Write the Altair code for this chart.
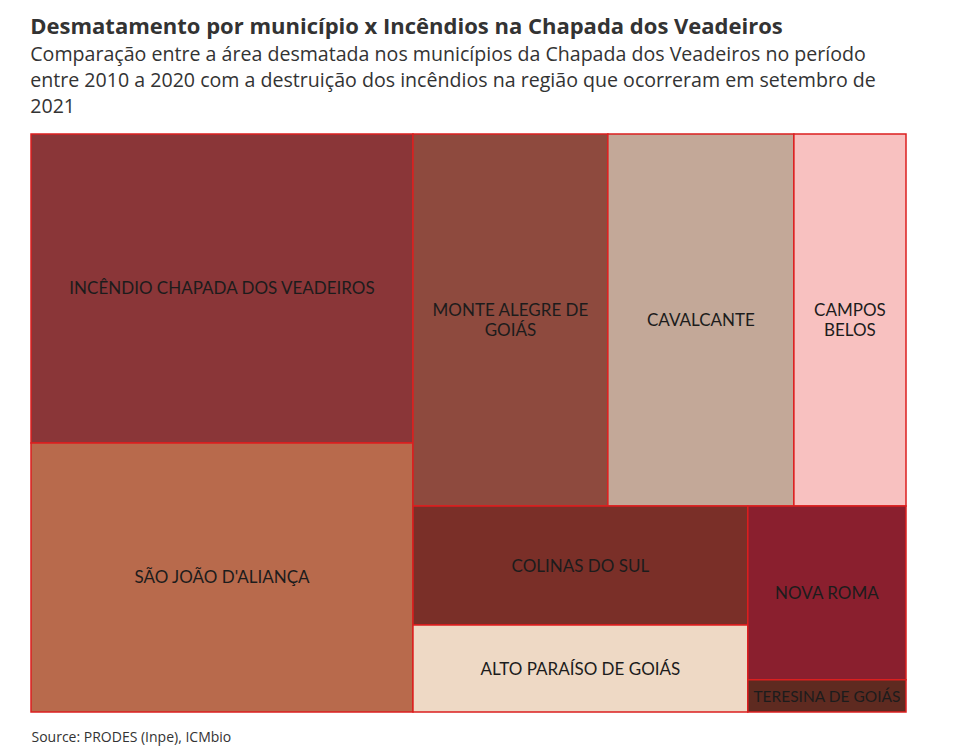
import altair as alt
import pandas as pd

# ---- data ----
names = ["INCÊNDIO CHAPADA DOS VEADEIROS", "SÃO JOÃO D'ALIANÇA", "MONTE ALEGRE DE GOIÁS",
         "CAVALCANTE", "CAMPOS BELOS", "COLINAS DO SUL", "ALTO PARAÍSO DE GOIÁS",
         "NOVA ROMA", "TERESINA DE GOIÁS"]
labels = ["INCÊNDIO CHAPADA DOS VEADEIROS", "SÃO JOÃO D'ALIANÇA", "MONTE ALEGRE DE\nGOIÁS",
          "CAVALCANTE", "CAMPOS\nBELOS", "COLINAS DO SUL", "ALTO PARAÍSO DE GOIÁS",
          "NOVA ROMA", "TERESINA DE GOIÁS"]
values = [118.0, 102.8, 72.5, 69.2, 41.7, 39.9, 29.1, 27.5, 5.1]
colors = ["#8a3638", "#b86a4c", "#8e4a3e", "#c3a898", "#f8c1c0",
          "#7a2f28", "#eed9c5", "#8a1f2e", "#5e2a20"]

title = "Desmatamento por município x Incêndios na Chapada dos Veadeiros"
subtitle = ["Comparação entre a área desmatada nos municípios da Chapada dos Veadeiros no período",
            "entre 2010 a 2020 com a destruição dos incêndios na região que ocorreram em setembro de",
            "2021"]
source = "Source: PRODES (Inpe), ICMbio"

W, H = 875, 578
FONT = "Lato"
TFONT = "Open Sans"


def squarify(vals, x0, y0, x1, y1, ratio=2.0):
    """d3-style squarified treemap layout."""
    order = sorted(range(len(vals)), key=lambda i: -vals[i])
    nodes = [vals[i] for i in order]
    rects = [None] * len(vals)
    n = len(nodes)
    i0 = i1 = 0
    value = float(sum(nodes))
    while i0 < n:
        dx, dy = x1 - x0, y1 - y0
        sumv = nodes[i1]
        i1 += 1
        minv = maxv = sumv
        alpha = max(dy / dx, dx / dy) / (value * ratio)
        beta = sumv * sumv * alpha
        minr = max(maxv / beta, beta / minv)
        while i1 < n:
            nv = nodes[i1]
            s = sumv + nv
            mn, mx = min(minv, nv), max(maxv, nv)
            beta = s * s * alpha
            nr = max(mx / beta, beta / mn)
            if nr > minr:
                break
            sumv, minv, maxv, minr = s, mn, mx, nr
            i1 += 1
        row = list(range(i0, i1))
        if dx < dy:
            yk = y0 + dy * sumv / value
            xx = x0
            for j in row:
                w = dx * nodes[j] / sumv
                rects[order[j]] = (xx, y0, xx + w, yk)
                xx += w
            y0 = yk
        else:
            xk = x0 + dx * sumv / value
            yy = y0
            for j in row:
                h = dy * nodes[j] / sumv
                rects[order[j]] = (x0, yy, xk, yy + h)
                yy += h
            x0 = xk
        value -= sumv
        i0 = i1
    return rects


rects = squarify(values, 0, 0, W, H)
df = pd.DataFrame({
    "name": names,
    "label": labels,
    "value": values,
    "x0": [r[0] for r in rects],
    "y0": [r[1] for r in rects],
    "x1": [r[2] for r in rects],
    "y1": [r[3] for r in rects],
})
df["xc"] = (df["x0"] + df["x1"]) / 2
df["yc"] = (df["y0"] + df["y1"]) / 2

xs = alt.Scale(domain=[0, W], nice=False, zero=False)
ys = alt.Scale(domain=[0, H], nice=False, zero=False, reverse=True)

base = alt.Chart(df)

cells = base.mark_rect(stroke="#dc1f1f", strokeWidth=1.5).encode(
    x=alt.X("x0:Q", scale=xs,
            axis=alt.Axis(labels=False, ticks=False, domain=False, grid=False,
                          title=source, titleAnchor="start", titleAlign="left",
                          titleFont=TFONT, titleFontSize=14, titleFontWeight="normal",
                          titleColor="#333333", titlePadding=18)),
    x2="x1:Q",
    y=alt.Y("y0:Q", scale=ys, axis=None),
    y2="y1:Q",
    color=alt.Color("name:N", scale=alt.Scale(domain=names, range=colors), legend=None),
    tooltip=["name:N", "value:Q"],
)

text_enc = dict(
    x=alt.X("xc:Q", scale=xs),
    y=alt.Y("yc:Q", scale=ys),
    text="label:N",
    size=alt.condition(alt.datum.value < 10, alt.value(15.5), alt.value(17)),
)

text_single = base.transform_filter("indexof(datum.label, '\\n') < 0").mark_text(
    font=FONT, color="#1c1c1c", align="center", baseline="middle", dy=1
).encode(**text_enc)

text_multi = base.transform_filter("indexof(datum.label, '\\n') >= 0").mark_text(
    font=FONT, color="#1c1c1c", lineBreak="\n", lineHeight=20,
    align="center", baseline="middle", dy=-9
).encode(**text_enc)

chart = (cells + text_single + text_multi).properties(
    width=W, height=H,
    autosize=alt.AutoSizeParams(type="none"),
    padding={"left": 23, "top": 126, "right": 30, "bottom": 35},
    title=alt.TitleParams(
        text=title, subtitle=subtitle, anchor="start", font=TFONT, fontSize=22,
        fontWeight="bold", color="#333333", subtitleFont=TFONT, subtitleFontSize=19.6,
        subtitleColor="#333333", subtitleLineHeight=26, subtitlePadding=7, offset=16,
    ),
).configure_view(stroke=None)

chart.save("out.html", embed_options={"renderer": "svg", "actions": False})
